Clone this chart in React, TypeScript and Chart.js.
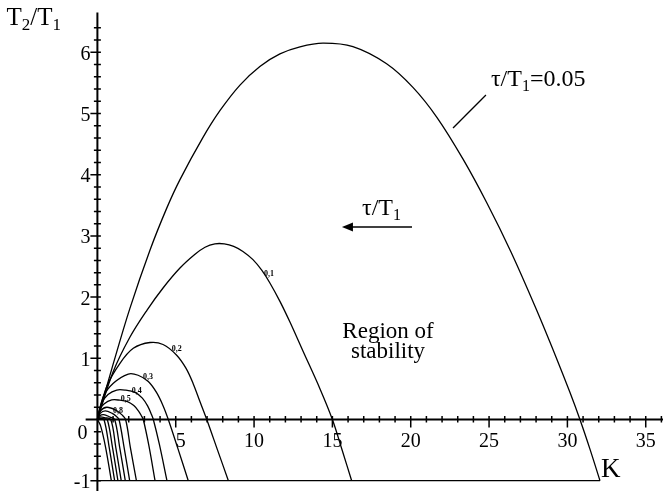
import React, { useEffect, useRef } from "react";
import { Chart, registerables } from "chart.js";

Chart.register(...registerables);

// Stability boundary curves: [K, T2/T1]
const curve005: number[][] = [
  [0, 0], [1.0, 0.9], [2.08, 1.82], [3.36, 2.77], [4.42, 3.45], [5.27, 3.92], [6.74, 4.61],
  [7.83, 5.05], [9.1, 5.465], [10.37, 5.77], [11.65, 5.975], [12.93, 6.09], [14.4, 6.15],
  [16.31, 6.093], [18.46, 5.813], [20.14, 5.427], [21.68, 4.934], [23.33, 4.258], [24.87, 3.534],
  [26.4, 2.738], [28.0, 1.81], [29.27, 1.023], [30.16, 0.444], [30.8, 0], [31.44, -0.484],
  [32.08, -1],
];
const curve01: number[][] = [
  [0, 0], [1.0, 0.776], [2.08, 1.348], [3.17, 1.789], [4.19, 2.149], [5.27, 2.475], [6.23, 2.7],
  [6.87, 2.815], [7.5, 2.87], [8.1, 2.87], [8.7, 2.83], [9.29, 2.746], [9.93, 2.612], [10.5, 2.435],
  [11.02, 2.227], [11.66, 1.926], [12.29, 1.592], [13.12, 1.119], [14.21, 0.5], [15.0, 0],
  [15.61, -0.49], [16.23, -1],
];
const curve02: number[][] = [
  [0, 0], [0.59, 0.536], [1.44, 0.918], [2.29, 1.163], [3.36, 1.258], [4.19, 1.225], [5.06, 1.051],
  [5.66, 0.835], [6.12, 0.582], [6.55, 0.29], [6.98, 0], [7.67, -0.5], [8.36, -1],
];
const curve03: number[][] = [
  [0, 0], [0.377, 0.373], [1.015, 0.592], [1.97, 0.743], [2.6, 0.723], [3.25, 0.62], [3.78, 0.438],
  [4.19, 0.226], [4.525, 0], [5.145, -0.48], [5.8, -1],
];
const curve04: number[][] = [
  [0, 0], [0.274, 0.265], [0.677, 0.408], [1.23, 0.482], [1.815, 0.479], [2.4, 0.443], [2.87, 0.35],
  [3.22, 0.215], [3.45, 0.082], [3.57, 0], [3.95, -0.4], [4.44, -1],
];
const curve05: number[][] = [
  [0, 0], [0.134, 0.155], [0.42, 0.253], [0.913, 0.319], [1.417, 0.316], [1.92, 0.291], [2.325, 0.227],
  [2.627, 0.138], [2.829, 0.052], [2.93, 0], [3.28, -0.42], [3.68, -1],
];
const curveA: number[][] = [
  [0, 0], [0.2, 0.14], [0.6, 0.2], [1.2, 0.15], [1.55, 0.08], [1.8, 0], [2.1, -0.45], [2.49, -1],
];
const curveB: number[][] = [
  [0, 0], [0.18, 0.1], [0.5, 0.14], [0.95, 0.1], [1.22, 0.05], [1.38, 0], [1.7, -0.45], [2.06, -1],
];
const curveC: number[][] = [
  [0, 0], [0.15, 0.06], [0.4, 0.08], [0.8, 0.04], [1.1, 0], [1.42, -0.45], [1.78, -1],
];
const curveD: number[][] = [
  [0, 0], [0.15, 0.04], [0.45, 0.03], [0.85, 0], [1.17, -0.45], [1.52, -1],
];
const curveE: number[][] = [
  [0, 0], [0.15, 0.02], [0.4, 0.01], [0.63, 0], [0.96, -0.45], [1.31, -1],
];
const curveF: number[][] = [
  [0, 0], [0.2, 0.005], [0.42, 0], [0.75, -0.45], [1.1, -1],
];
const curveG: number[][] = [
  [0, 0], [0.2, -0.1], [0.52, -0.45], [0.89, -1],
];
const baseLine: number[][] = [[0, -1], [32.08, -1]];

const allCurves = [curve005, curve01, curve02, curve03, curve04, curve05, curveA, curveB, curveC, curveD, curveE, curveF, curveG];

const xTickLabels = [5, 10, 15, 20, 25, 30, 35];
const yTickLabels = [-1, 1, 2, 3, 4, 5, 6];

const curveLabels = [
  { text: "0,1", k: 10.95, v: 2.386 },
  { text: "0,2", k: 5.06, v: 1.152 },
  { text: "0,3", k: 3.23, v: 0.7 },
  { text: "0,4", k: 2.51, v: 0.47 },
  { text: "0,5", k: 1.81, v: 0.33 },
  { text: "0,8", k: 1.31, v: 0.14 },
];

const SERIF = '"Liberation Serif", "DejaVu Serif", serif';

function drawSubText(ctx: CanvasRenderingContext2D, parts: [string, boolean][], x: number, y: number, size: number) {
  let cx = x;
  for (const [t, sub] of parts) {
    const fs = sub ? Math.round(size * 0.66) : size;
    ctx.font = `${fs}px ${SERIF}`;
    ctx.fillText(t, cx, sub ? y + size * 0.2 : y);
    cx += ctx.measureText(t).width;
  }
}

const overlayPlugin = {
  id: "overlay",
  beforeDraw(chart: any) {
    const ctx = chart.ctx;
    ctx.save();
    ctx.fillStyle = "#fff";
    ctx.fillRect(0, 0, chart.width, chart.height);
    ctx.restore();
  },
  afterDatasetsDraw(chart: any) {
    const ctx: CanvasRenderingContext2D = chart.ctx;
    const xs = chart.scales.x;
    const ys = chart.scales.y;
    const px = (k: number) => xs.getPixelForValue(k);
    const py = (v: number) => ys.getPixelForValue(v);
    ctx.save();
    ctx.strokeStyle = "#000";
    ctx.fillStyle = "#000";
    // axes
    ctx.lineWidth = 2;
    ctx.beginPath();
    ctx.moveTo(px(-0.75), py(0));
    ctx.lineTo(px(36.3), py(0));
    ctx.moveTo(px(0), py(6.65));
    ctx.lineTo(px(0), py(-1.17));
    ctx.stroke();
    // x ticks
    ctx.lineWidth = 1.5;
    ctx.beginPath();
    for (let k = 1; k <= 36; k++) {
      const x = px(k);
      const major = k % 5 === 0;
      ctx.moveTo(x, py(0) - 3.5);
      ctx.lineTo(x, py(0) + (major ? 8 : 3));
    }
    // y ticks
    for (let i = -5; i <= 32; i++) {
      if (i === 0) continue;
      const v = i * 0.2;
      const major = i % 5 === 0;
      ctx.moveTo(px(0) - (major ? 7 : 3.5), py(v));
      ctx.lineTo(px(0) + 3.5, py(v));
    }
    ctx.stroke();
    // tick labels
    ctx.font = `20px ${SERIF}`;
    ctx.textBaseline = "alphabetic";
    ctx.textAlign = "center";
    for (const k of xTickLabels) ctx.fillText(String(k), px(k) + (k === 5 ? 5 : 0), py(0) + 27);
    ctx.textAlign = "right";
    for (const v of yTickLabels) ctx.fillText(String(v), px(0) - 7, py(v) + 7.5);
    ctx.textAlign = "center";
    ctx.fillText("0", px(0) - 15, py(0) + 19);
    // axis titles
    ctx.textAlign = "left";
    drawSubText(ctx, [["T", false], ["2", true], ["/T", false], ["1", true]], px(-5.8), py(6.445), 25);
    ctx.font = `27px ${SERIF}`;
    ctx.fillText("K", px(32.14), py(-0.94));
    // annotations
    drawSubText(ctx, [["τ/T", false], ["1", true], ["=0.05", false]], px(25.12), py(5.449), 24);
    drawSubText(ctx, [["τ/T", false], ["1", true]], px(16.89), py(3.342), 24);
    ctx.lineWidth = 1.3;
    ctx.beginPath();
    ctx.moveTo(px(24.8), py(5.302));
    ctx.lineTo(px(22.7), py(4.763));
    ctx.stroke();
    // arrow
    ctx.lineWidth = 1.6;
    ctx.beginPath();
    ctx.moveTo(px(20.08), py(3.145));
    ctx.lineTo(px(15.9), py(3.145));
    ctx.stroke();
    ctx.beginPath();
    const ax = px(15.61), ay = py(3.145);
    ctx.moveTo(ax, ay);
    ctx.lineTo(ax + 11, ay - 4.5);
    ctx.lineTo(ax + 11, ay + 4.5);
    ctx.closePath();
    ctx.fill();
    ctx.textAlign = "center";
    ctx.font = `23px ${SERIF}`;
    ctx.fillText("Region of", px(18.55), py(1.332));
    ctx.fillText("stability", px(18.55), py(1.005));
    ctx.font = `bold 8px ${SERIF}`;
    ctx.textBaseline = "middle";
    for (const l of curveLabels) ctx.fillText(l.text, px(l.k), py(l.v));
    ctx.restore();
  },
};

export default function App() {
  const ref = useRef<HTMLCanvasElement | null>(null);
  useEffect(() => {
    if (!ref.current) return;
    const datasets = [...allCurves, baseLine].map((c) => ({
      data: c.map(([x, y]) => ({ x, y })),
      borderColor: "#000",
      borderWidth: 1.3,
      pointRadius: 0,
      fill: false,
      tension: 0.35,
    }));
    const chart = new Chart(ref.current, {
      type: "line",
      data: { datasets },
      options: {
        animation: false,
        responsive: false,
        devicePixelRatio: 1,
        layout: { padding: 0 },
        plugins: { legend: { display: false }, tooltip: { enabled: false }, title: { display: false } },
        scales: {
          x: { type: "linear", min: -6.217, max: 36.102, display: false },
          y: { type: "linear", min: -1.25, max: 6.855, display: false },
        },
      },
      plugins: [overlayPlugin],
    });
    return () => chart.destroy();
  }, []);
  return (
    <div style={{ position: "absolute", left: 0, top: 0, width: 663, height: 496, background: "#fff" }}>
      <canvas ref={ref} width={663} height={496} style={{ display: "block" }} />
    </div>
  );
}
